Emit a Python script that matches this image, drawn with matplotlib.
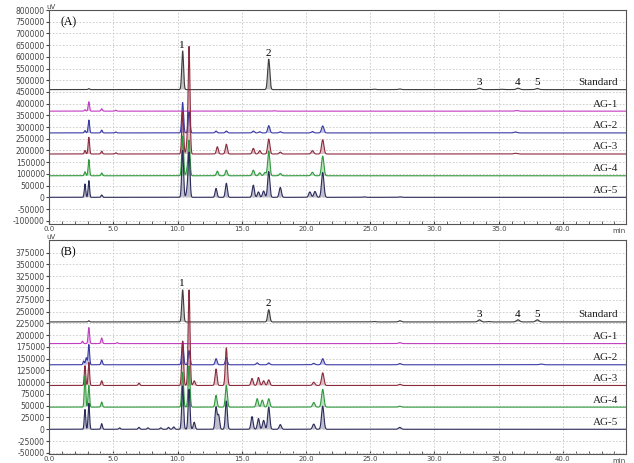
import matplotlib.pyplot as plt
import numpy as np

names = ['Standard', 'AG-1', 'AG-2', 'AG-3', 'AG-4', 'AG-5']
colors = ['#3c3c3c', '#c23cc2', '#3a3aa6', '#8c2b3e', '#2f9a3c', '#2b2b5c']

# baseline offset of each trace (uV)
base_A = [460000, 368000, 275000, 185000, 92000, 0]
base_B = [228000, 182000, 137000, 93000, 47000, 0]

# peaks: (retention time in min, height above baseline in uV)
peaks_A = {
    'Standard': [(3.1, 4000), (10.4, 165000), (17.1, 130000), (25.3, 2000), (27.3, 2500),
                 (33.5, 6000), (35.2, 1500), (36.5, 6000), (38.0, 5000)],
    'AG-1': [(2.8, 6000), (3.1, 40000), (4.1, 10000), (5.2, 4000), (17.5, 1500), (36.4, 2500)],
    'AG-2': [(2.8, 10000), (3.1, 55000), (4.1, 12000), (5.2, 4000), (10.4, 130000), (10.9, 90000),
             (13.0, 8000), (13.8, 8000), (15.9, 8000), (16.4, 5000), (17.1, 31000), (18.0, 5000),
             (20.5, 6000), (21.3, 30000), (36.3, 4000)],
    'AG-3': [(2.8, 15000), (3.1, 71000), (4.1, 12000), (5.2, 5000), (10.4, 180000), (10.75, 40000),
             (10.9, 455000), (13.1, 31000), (13.8, 42000), (15.9, 24000), (16.4, 14000),
             (17.1, 64000), (18.0, 8000), (20.5, 14000), (21.3, 61000), (36.3, 3000)],
    'AG-4': [(2.8, 17000), (3.1, 69000), (4.1, 12000), (10.4, 170000), (10.75, 25000),
             (10.9, 150000), (13.1, 20000), (13.8, 24000), (15.9, 24000), (16.4, 13000),
             (16.8, 14000), (17.1, 105000), (18.0, 10000), (20.5, 15000), (21.3, 84000)],
    'AG-5': [(2.8, 57000), (3.1, 71000), (4.1, 10000), (10.4, 200000), (10.75, 30000),
             (10.9, 190000), (13.0, 38000), (13.8, 60000), (15.9, 52000), (16.3, 23000),
             (16.7, 27000), (17.1, 110000), (18.0, 42000), (20.3, 23000), (20.7, 25000),
             (21.3, 106000), (24.5, 2000), (27.3, 2000)],
}

peaks_B = {
    'Standard': [(3.1, 2500), (10.4, 68000), (17.1, 26000), (25.3, 1000), (27.3, 2500),
                 (33.5, 4500), (34.2, 800), (36.5, 4500), (38.0, 4500)],
    'AG-1': [(2.6, 5000), (3.1, 34000), (4.1, 12000), (5.3, 2000), (27.3, 2000)],
    'AG-2': [(2.7, 8000), (2.9, 15000), (3.1, 43000), (4.1, 10000), (10.4, 50000), (10.9, 30000),
             (13.0, 13000), (13.8, 15000), (16.2, 4000), (17.1, 4000), (20.6, 3000),
             (21.3, 13000), (27.3, 2500), (38.3, 1500)],
    'AG-3': [(2.8, 42000), (3.1, 49000), (4.1, 10000), (7.0, 5000), (10.4, 94000), (10.9, 203000),
             (11.3, 10000), (13.0, 35000), (13.8, 80000), (15.8, 15000), (16.3, 17000),
             (16.7, 10000), (17.1, 12000), (20.6, 7000), (21.3, 27000), (27.3, 2500)],
    'AG-4': [(2.8, 67000), (3.1, 46000), (4.1, 11000), (10.4, 74000), (10.9, 88000),
             (13.0, 25000), (13.8, 46000), (16.2, 18000), (16.6, 15000), (17.1, 18000),
             (20.6, 10000), (21.3, 38000), (27.3, 2000)],
    'AG-5': [(2.8, 42000), (3.1, 55000), (4.1, 12000), (5.5, 3000), (7.0, 4000), (7.7, 3000),
             (8.7, 3000), (9.3, 4000), (9.7, 5000), (10.4, 92000), (10.9, 85000), (11.3, 15000),
             (13.0, 47000), (13.2, 30000), (13.8, 60000), (15.8, 27000), (16.3, 23000),
             (16.7, 19000), (17.1, 47000), (18.0, 10000), (20.6, 11000), (21.3, 49000),
             (27.3, 4000)],
}

t = np.linspace(0, 45, 9001)


def trace(base, peaks):
    y = np.full_like(t, base, dtype=float)
    for rt, h in peaks:
        sig = 0.05 + 0.002 * rt
        y += h * np.exp(-0.5 * ((t - rt) / sig) ** 2)
    return y


def panel(ax, bases, peaks, ylim, yticks, tag):
    for name, col, b in zip(names, colors, bases):
        y = trace(b, peaks[name])
        ax.fill_between(t, b, y, where=y > b + 500, color=col, alpha=0.3, lw=0)
        ax.plot(t, y, color=col, lw=0.8)
        ax.text(44.3, b + (ylim[1] - ylim[0]) * 0.012, name, ha='right', va='bottom',
                family='Liberation Serif', fontsize=8, color='#222222')

    ax.set_xlim(0, 44.9)
    ax.set_ylim(*ylim)
    ax.set_xticks(np.arange(0, 45, 5))
    ax.set_xticks(np.arange(0, 45, 1), minor=True)
    ax.set_xticklabels(['%.1f' % v for v in np.arange(0, 45, 5)])
    ax.set_yticks(yticks)
    ax.set_yticklabels(['%d' % v for v in yticks])
    ax.tick_params(axis='x', which='both', direction='in', length=2.5, pad=1.5,
                   labelsize=5, labelcolor='#444444', color='#444444')
    ax.tick_params(axis='y', direction='out', length=2, pad=1,
                   labelsize=5.5, labelcolor='#444444', color='#444444')
    ax.grid(True, which='major', color='#c8c8c8', ls=(0, (2, 2)), lw=0.6)
    for s in ax.spines.values():
        s.set_color('#555555')
        s.set_linewidth(0.8)
    ax.text(44.9, -0.02, 'min', transform=ax.get_xaxis_transform(), ha='right', va='top',
            fontsize=5, color='#444444')
    ax.text(-0.004, 1.0, 'uV', transform=ax.transAxes, ha='left', va='bottom',
            fontsize=5, color='#444444')
    ax.text(0.9, ylim[1] - (ylim[1] - ylim[0]) * 0.03, tag, ha='left', va='top',
            family='Liberation Serif', fontsize=8.5)


fig = plt.figure(figsize=(6.34, 4.63), dpi=100)
axA = fig.add_axes([0.0773, 0.5162, 0.910, 0.4622])
axB = fig.add_axes([0.0773, 0.0200, 0.910, 0.4616])

panel(axA, base_A, peaks_A, (-114000, 800000), np.arange(-100000, 800001, 50000), '(A)')
panel(axB, base_B, peaks_B, (-52000, 402000), np.arange(-50000, 375001, 25000), '(B)')

# compound numbers over the standard peaks
num_rt = [10.3, 17.1, 33.5, 36.5, 38.0]
num_A = [625000, 592000, 468000, 468000, 468000]
num_B = [298000, 256000, 233000, 233000, 233000]
for i, rt in enumerate(num_rt):
    axA.text(rt, num_A[i] + 4000, str(i + 1), ha='center', va='bottom',
             family='Liberation Serif', fontsize=8)
    axB.text(rt, num_B[i] + 2000, str(i + 1), ha='center', va='bottom',
             family='Liberation Serif', fontsize=8)

fig.savefig('out.png', dpi=100)
